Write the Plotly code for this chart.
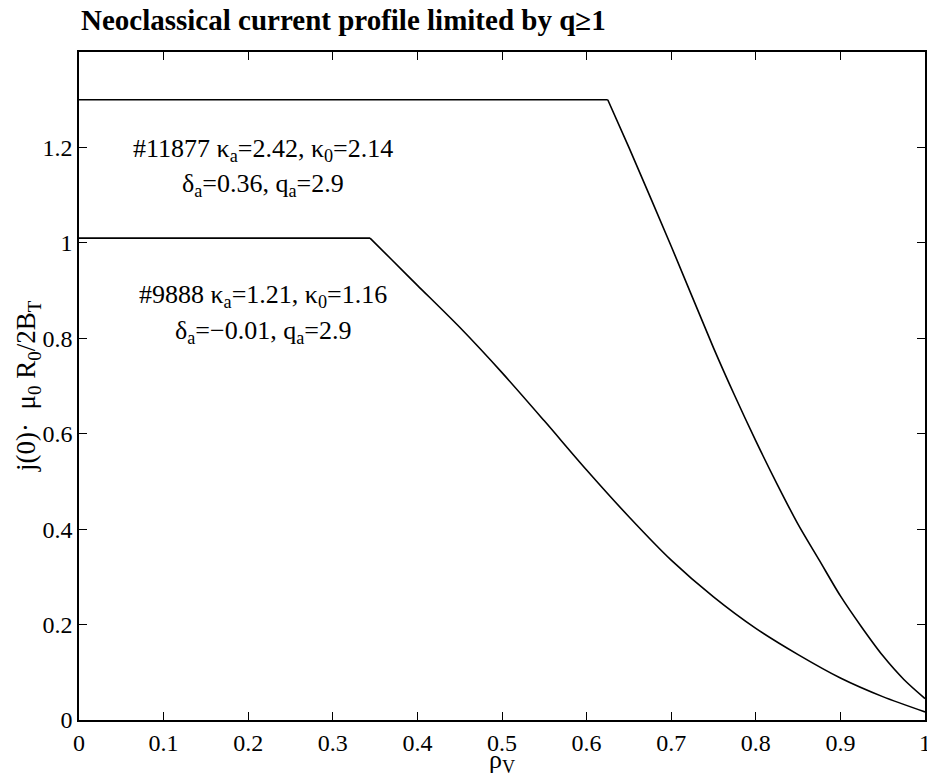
import plotly.graph_objects as go

# Data
rho_11877 = [0.0, 0.625, 0.65, 0.70, 0.75, 0.775, 0.80, 0.825, 0.85, 0.875, 0.90, 0.925, 0.95, 0.975, 1.0]
j_11877 = [1.30, 1.30, 1.20, 0.993, 0.78, 0.68, 0.585, 0.495, 0.41, 0.335, 0.26, 0.195, 0.135, 0.085, 0.045]

rho_9888 = [0.0, 0.344, 0.37, 0.40, 0.45, 0.50, 0.55, 0.60, 0.65, 0.70, 0.75, 0.80, 0.85, 0.90, 0.95, 1.0]
j_9888 = [1.01, 1.01, 0.964, 0.911, 0.823, 0.728, 0.627, 0.524, 0.426, 0.335, 0.258, 0.192, 0.137, 0.088, 0.049, 0.017]

x_ticks = [0, 0.1, 0.2, 0.3, 0.4, 0.5, 0.6, 0.7, 0.8, 0.9, 1]
x_ticklabels = ["0", "0.1", "0.2", "0.3", "0.4", "0.5", "0.6", "0.7", "0.8", "0.9", "1"]
y_ticks = [0, 0.2, 0.4, 0.6, 0.8, 1.0, 1.2]
y_ticklabels = ["0", "0.2", "0.4", "0.6", "0.8", "1", "1.2"]

title_text = "<b>Neoclassical current profile limited by q≥1</b>"
ylabel = "j(0)·  μ<sub>0</sub> R<sub>0</sub>/2B<sub>T</sub>"
xlabel = "ρ<sub>V</sub>"
notes = [
    ("#11877 κ<sub>a</sub>=2.42, κ<sub>0</sub>=2.14", 0.2175, 1.195),
    ("δ<sub>a</sub>=0.36, q<sub>a</sub>=2.9", 0.2175, 1.122),
    ("#9888 κ<sub>a</sub>=1.21, κ<sub>0</sub>=1.16", 0.2175, 0.889),
    ("δ<sub>a</sub>=−0.01, q<sub>a</sub>=2.9", 0.2175, 0.814),
]

FONT = "Times New Roman, Liberation Serif, DejaVu Serif, serif"


def split(xs, ys):
    # flat top part (first two points) and the decaying part
    return (xs[:2], ys[:2]), (xs[1:], ys[1:])


fig = go.Figure()
for xs, ys in (rho_11877, j_11877), (rho_9888, j_9888):
    (fx, fy), (dx, dy) = split(xs, ys)
    fig.add_trace(go.Scatter(x=fx, y=fy, mode="lines",
                             line=dict(color="black", width=1.6), showlegend=False))
    fig.add_trace(go.Scatter(x=dx, y=dy, mode="lines",
                             line=dict(color="black", width=1.6, shape="spline", smoothing=0.8),
                             showlegend=False))

for txt, xx, yy in notes:
    fig.add_annotation(x=xx, y=yy, xref="x", yref="y", text=txt, showarrow=False,
                       xanchor="center", yanchor="middle",
                       font=dict(family=FONT, size=26, color="black"))

fig.add_annotation(x=-0.0603, y=0.5, xref="paper", yref="paper", text=ylabel,
                   textangle=-90, showarrow=False, xanchor="center", yanchor="middle",
                   font=dict(family=FONT, size=27, color="black"))
fig.add_annotation(x=0.5, y=-0.062, xref="paper", yref="paper", text=xlabel,
                   showarrow=False, xanchor="center", yanchor="middle",
                   font=dict(family=FONT, size=26, color="black"))
fig.add_annotation(x=0.0, y=1.048, xref="paper", yref="paper", text=title_text,
                   showarrow=False, xanchor="left", yanchor="middle",
                   font=dict(family=FONT, size=29, color="black"))

axis_common = dict(showgrid=False, zeroline=False, showline=True, linecolor="black",
                   linewidth=1.5, mirror="ticks", ticks="inside", ticklen=8,
                   tickwidth=1.2, tickcolor="black", ticklabeloverflow="allow",
                   automargin=False,
                   tickfont=dict(family=FONT, size=24, color="black"))

fig.update_xaxes(range=[0, 1], tickvals=x_ticks, ticktext=x_ticklabels, **axis_common)
fig.update_yaxes(range=[0, 1.4], tickvals=y_ticks, ticktext=y_ticklabels, **axis_common)

fig.update_layout(width=927, height=776, margin=dict(l=79, r=2, t=52, b=56, autoexpand=False),
                  plot_bgcolor="white", paper_bgcolor="white",
                  font=dict(family=FONT, color="black"))

fig.write_html("out.html")
